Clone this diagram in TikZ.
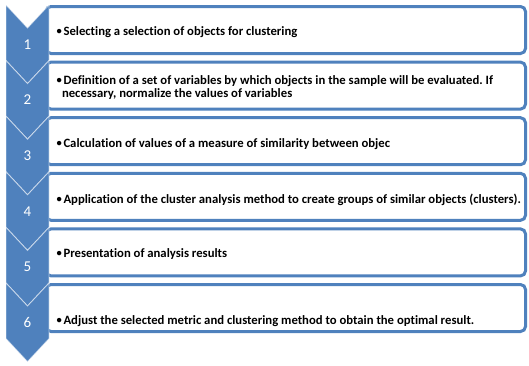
\documentclass[tikz,border=0pt]{standalone}
\usepackage{fontspec}
\setmainfont{Carlito}[Ligatures=CommonOff]
\frenchspacing
\definecolor{steelblue}{HTML}{4F81BD}
\newcommand{\itembullet}{\raisebox{0.9pt}{\fontsize{10.5}{12}\selectfont •}\kern1.6pt}
\begin{document}
\begin{tikzpicture}[x=1pt,y=-1pt,
  itembox/.style={draw=steelblue,line width=3pt,fill=white,rounded corners=5pt},
  chevron/.style={fill=steelblue,draw=white,draw opacity=0.55,line width=0.9pt,line join=miter},
  stepnum/.style={text=white,font=\fontsize{15}{18}\selectfont,inner sep=0pt},
  itemtext/.style={anchor=base west,inner sep=0pt,font=\bfseries\fontsize{12.7}{12}\selectfont}]
\useasboundingbox (0,0) rectangle (529,365);

% text boxes, one per step
\foreach \i in {1,...,6}{
  \pgfmathsetmacro{\t}{5+55.6*(\i-1)}
  \draw[itembox] (46,\t+1.5) rectangle (525.5,\t+48.5);
}

% chevrons, drawn top to bottom so each one overlaps the previous point
\foreach \i in {1,...,6}{
  \pgfmathsetmacro{\t}{5+55.6*(\i-1)}
  \path[chevron] (6,\t) -- (27.5,\t+23) -- (49,\t) -- (49,\t+55.6)
     -- (27.5,\t+78.6) -- (6,\t+55.6) -- cycle;
  \node[stepnum] (n\i) at (27.5,\t+39.5) {\i};
}

% step descriptions
\node[itemtext] (t1) at (56.5,35) {\itembullet Selecting a selection of objects for clustering};
\node[itemtext] (t2a) at (56.5,84) {\itembullet Definition of a set of variables by which objects in the sample will be evaluated. If};
\node[itemtext] (t2b) at (61.8,97) {necessary, normalize the values of variables};
\node[itemtext] (t3) at (56.5,147) {\itembullet Calculation of values of a measure of similarity between objec};
\node[itemtext] (t4) at (56.5,203) {\itembullet Application of the cluster analysis method to create groups of similar objects (clusters).};
\node[itemtext] (t5) at (56.5,257) {\itembullet Presentation of analysis results};
\node[itemtext] (t6) at (56.5,324) {\itembullet Adjust the selected metric and clustering method to obtain the optimal result.};
\end{tikzpicture}
\end{document}
